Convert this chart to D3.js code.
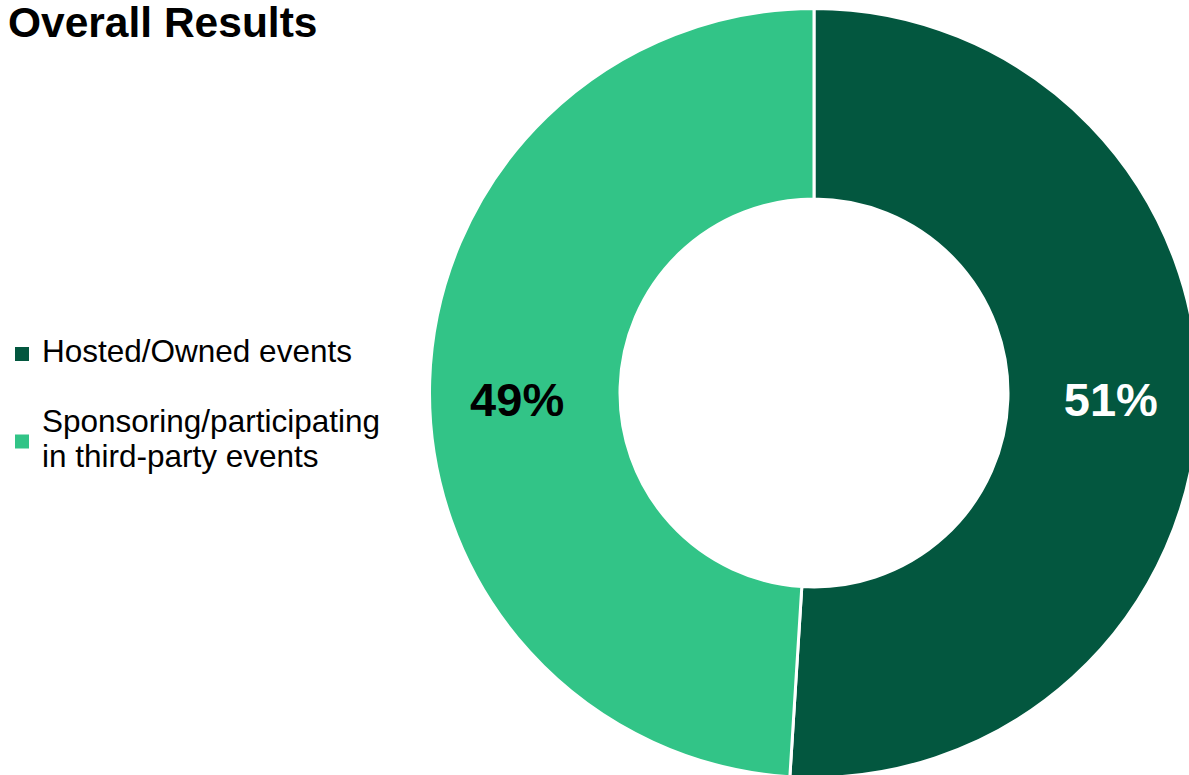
<!DOCTYPE html>
<html>
<head>
<meta charset="utf-8">
<script src="https://cdn.jsdelivr.net/npm/d3@7/dist/d3.min.js"></script>
<style>
  html, body { margin: 0; padding: 0; background: #fff; }
  svg { display: block; font-family: Arial, "Liberation Sans", sans-serif; }
</style>
</head>
<body>
<svg id="chart" width="1189" height="775"></svg>
<script>
// Event mix, share of respondents
const categories = ["Hosted/Owned events", "Sponsoring/participating in third-party events"];
const legendLines = [["Hosted/Owned events"], ["Sponsoring/participating", "in third-party events"]];
const values = [51, 49];
const colors = ["#03573F", "#32C487"];
const labelColors = ["#ffffff", "#000000"];

const svg = d3.select("#chart");

// Title
svg.append("text")
  .attr("x", 8).attr("y", 37)
  .attr("font-size", 42.5).attr("font-weight", "bold")
  .attr("fill", "#000")
  .text("Overall Results");

// Donut
const cx = 814, cy = 393;
const outerR = 384.5, innerR = 194;

const pie = d3.pie().sort(null).value(d => d.value);
const arc = d3.arc().innerRadius(innerR).outerRadius(outerR);
const labelArc = d3.arc().innerRadius(297).outerRadius(297);

const data = categories.map((c, i) => ({ name: c, value: values[i], color: colors[i], labelColor: labelColors[i] }));
const arcs = pie(data);

const g = svg.append("g").attr("transform", `translate(${cx},${cy})`);

g.selectAll("path.slice")
  .data(arcs)
  .join("path")
  .attr("class", "slice")
  .attr("d", arc)
  .attr("fill", d => d.data.color)
  .attr("stroke", "#fff")
  .attr("stroke-width", 3)
  .attr("stroke-linejoin", "round");

g.selectAll("text.pct")
  .data(arcs)
  .join("text")
  .attr("class", "pct")
  .attr("x", d => labelArc.centroid(d)[0])
  .attr("y", 23)
  .attr("text-anchor", "middle")
  .attr("font-size", 47)
  .attr("font-weight", "bold")
  .attr("fill", d => d.data.labelColor)
  .text(d => d3.format(".0f")(d.data.value) + "%");

// Legend
const legend = svg.append("g");
const legendRows = [
  { top: 362, lines: legendLines[0] },
  { top: 432, lines: legendLines[1] }
];
const lineH = 35;
legendRows.forEach((row, i) => {
  const n = row.lines.length;
  const capMid = row.top - 8 + (n - 1) * lineH / 2;
  legend.append("rect")
    .attr("x", 15).attr("y", capMid - 7)
    .attr("width", 14).attr("height", 14)
    .attr("fill", colors[i]);
  const t = legend.append("text")
    .attr("x", 42).attr("y", row.top)
    .attr("font-size", 31.5)
    .attr("fill", "#000");
  row.lines.forEach((ln, j) => {
    t.append("tspan").attr("x", 42).attr("y", row.top + j * lineH).text(ln);
  });
});
</script>
</body>
</html>
